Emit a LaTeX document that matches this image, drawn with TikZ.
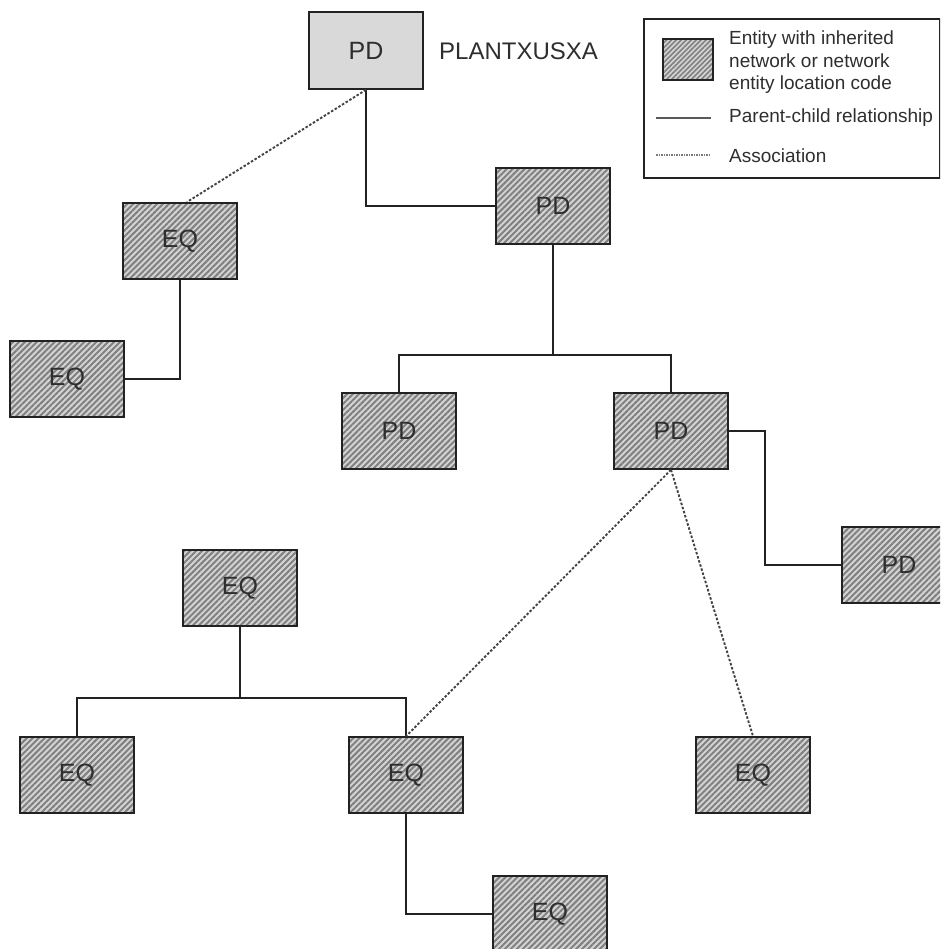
\documentclass[tikz,border=0pt]{standalone}
\usepackage{fontspec}
\setmainfont{Liberation Sans}
\usetikzlibrary{patterns.meta}
\definecolor{lightbox}{HTML}{D9D9D9}
\definecolor{hatchbg}{HTML}{D4D4D4}
\definecolor{hatchfg}{HTML}{808080}
\definecolor{ink}{HTML}{222222}
\definecolor{txt}{HTML}{2E2E2E}
\tikzset{
  ent/.style={draw=ink, line width=1.6pt, minimum width=114pt, minimum height=76pt, inner sep=0pt,
    preaction={fill=hatchbg}, pattern={Lines[angle=45,distance=4.2pt,line width=2pt]}, pattern color=hatchfg,
    font=\fontsize{25}{29}\selectfont, text=txt},
  plainent/.style={draw=ink, line width=1.6pt, minimum width=114pt, minimum height=77pt, inner sep=0pt,
    fill=lightbox, font=\fontsize{25}{29}\selectfont, text=txt},
  pc/.style={draw=ink, line width=1.6pt},
  assoc/.style={draw=ink!85, line width=1.9pt, dash pattern=on 2.5pt off 1.8pt},
  legtxt/.style={font=\fontsize{19}{22.5}\selectfont, text=txt, anchor=west, inner sep=0pt, align=left},
}
\begin{document}
\begin{tikzpicture}[x=1pt,y=-1pt]
\useasboundingbox (0,0) rectangle (940,949);
\clip (0,0) rectangle (940,949);
% nodes
\node[plainent] (tpd) at (366,50.5) {PD};
\node[font=\fontsize{24}{28}\selectfont, text=txt, anchor=west, inner sep=0pt] (plant) at (439,51) {PLANTXUSXA};
\node[ent] (eq1) at (180,241) {EQ};
\node[ent] (eq2) at (67,379) {EQ};
\node[ent] (pd2) at (553,206) {PD};
\node[ent] (pd3) at (399,431) {PD};
\node[ent] (pd4) at (671,431) {PD};
\node[ent] (pd5) at (899,565) {PD};
\node[ent] (eq3) at (240,588) {EQ};
\node[ent] (eq4) at (77,775) {EQ};
\node[ent] (eq5) at (406,775) {EQ};
\node[ent] (eq6) at (550,914) {EQ};
\node[ent] (eq7) at (753,775) {EQ};
% bus coordinates
\coordinate (busA) at (553,355);
\coordinate (busAL) at (399,355);
\coordinate (busAR) at (671,355);
\coordinate (busB) at (240,698);
\coordinate (busBL) at (77,698);
\coordinate (busBR) at (406,698);
% parent-child
\draw[pc] (tpd.south) |- (pd2.west);
\draw[pc] (eq1.south) |- (eq2.east);
\draw[pc] (pd2.south) -- (busA);
\draw[pc] (pd3.north) -- (busAL) -- (busAR) -- (pd4.north);
\draw[pc] (pd4.east) -- ++(36,0) |- (pd5.west);
\draw[pc] (eq3.south) -- (busB);
\draw[pc] (eq4.north) -- (busBL) -- (busBR) -- (eq5.north);
\draw[pc] (eq5.south) |- (eq6.west);
% associations
\draw[assoc] (tpd.south) -- ([xshift=7pt]eq1.north);
\draw[assoc] (pd4.south) -- (eq5.north);
\draw[assoc] (pd4.south) -- (eq7.north);
% legend
\node[draw=ink, line width=1.6pt, minimum width=296pt, minimum height=159pt, inner sep=0pt, anchor=north west] (legend) at (643,18) {};
\node[draw=ink, line width=1.6pt, minimum width=50pt, minimum height=41pt, inner sep=0pt,
    preaction={fill=hatchbg}, pattern={Lines[angle=45,distance=3.5pt,line width=1.6pt]}, pattern color=hatchfg] (legbox) at (688,59.5) {};
\node[legtxt] (legt1) at (729,62.5) {Entity with inherited\\network or network\\entity location code};
\coordinate (l1a) at (656,118);
\coordinate (l1b) at (711,118);
\draw[draw=ink!75, line width=1.7pt] (l1a) -- (l1b);
\node[legtxt] (legt2) at (729,118) {Parent-child relationship};
\coordinate (l2a) at (656,155);
\coordinate (l2b) at (711,155);
\draw[draw=ink!60, line width=1.5pt, dash pattern=on 1.5pt off 1pt] (l2a) -- (l2b);
\node[legtxt] (legt3) at (729,156) {Association};
\end{tikzpicture}
\end{document}
